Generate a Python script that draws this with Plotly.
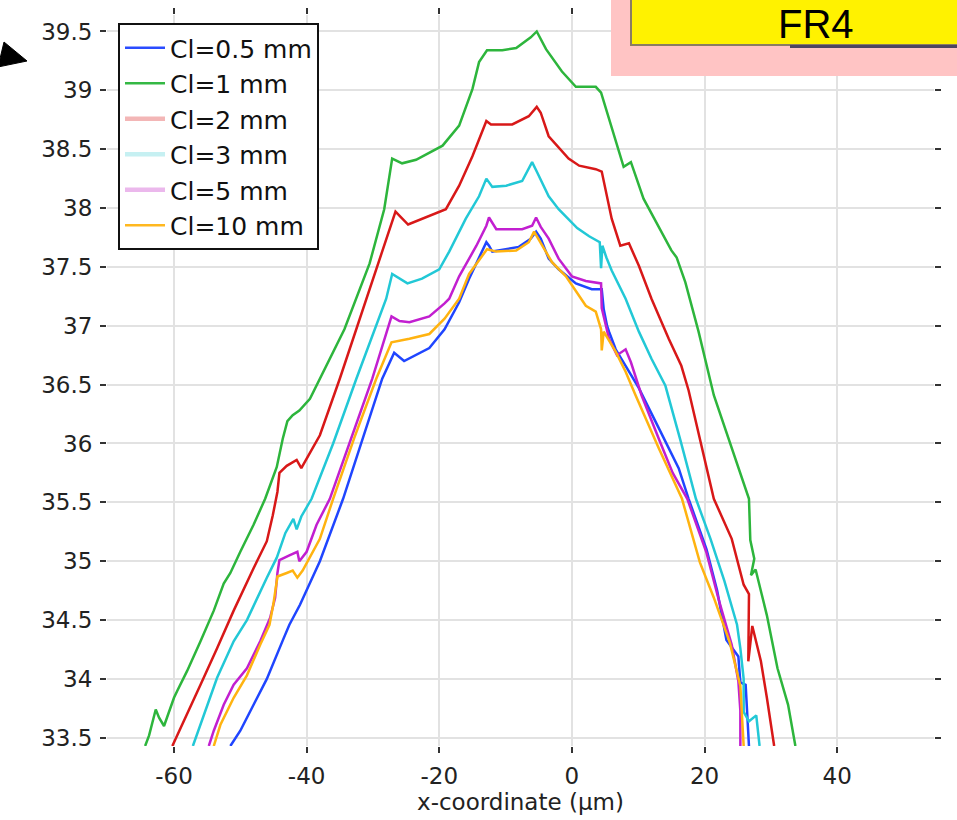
import plotly.graph_objects as go

# ---------------- data ----------------
series_names = ["Cl=0.5 mm", "Cl=1 mm", "Cl=2 mm", "Cl=3 mm", "Cl=5 mm", "Cl=10 mm"]

x_cl05 = [-51.5, -50, -48, -46, -43.5, -42.6, -41, -38, -34.5, -31.5, -28.6, -26.8, -25.3, -21.5, -19.2, -17, -15.5,
          -12.9, -12.5, -12, -9.9, -8, -6.2, -5.4, -4.7, -3.5, -2, 0.6, 3.0, 4.5, 4.8, 5.3, 5.6, 6.6, 8.1, 10.1, 13.1,
          16.1, 17.6, 20.3, 21.9, 23.3, 25.1, 25.4, 26.2, 26.5, 26.7]
y_cl05 = [33.43, 33.56, 33.78, 34.0, 34.34, 34.46, 34.63, 35.0, 35.53, 36.04, 36.55, 36.77, 36.70, 36.81, 36.97, 37.2, 37.40,
          37.71, 37.68, 37.63, 37.65, 37.67, 37.74, 37.8, 37.74, 37.57, 37.48, 37.36, 37.31, 37.31, 37.14, 37.0, 36.95, 36.8, 36.66, 36.47, 36.13,
          35.79, 35.53, 35.1, 34.75, 34.33, 34.19, 33.97, 33.95, 33.63, 33.43]

x_cl1 = [-64.35, -63.75, -62.75, -62.25, -61.5, -60, -59.5, -58, -56, -54, -52.5, -51.5, -50, -48, -46.25, -44.5,
         -43.6, -42.9, -42.1, -41.1, -39.5, -38, -34.3, -30.5, -28.3, -27.1, -25.6, -23.5, -19.5, -17.0, -15.0, -14.0,
         -12.8, -10.5, -8.4, -6.2, -5.3, -3.9, -1.5, 0.6, 3.6, 4.4, 6.6, 7.8, 8.9, 10.8, 15.0, 15.8, 17.1, 19.1, 21.4,
         24.0, 26.7, 26.9, 27.5, 27.0, 27.7, 29.4, 31.0, 32.6, 33.7]
y_cl1 = [33.43, 33.52, 33.74, 33.67, 33.60, 33.84, 33.90, 34.07, 34.32, 34.58, 34.81, 34.90, 35.08, 35.31, 35.53, 35.80,
         36.04, 36.19, 36.24, 36.28, 36.38, 36.55, 36.97, 37.53, 37.99, 38.42, 38.38, 38.41, 38.53, 38.70, 39.01, 39.24,
         39.34, 39.34, 39.36, 39.45, 39.50, 39.35, 39.16, 39.03, 39.03, 38.98, 38.58, 38.35, 38.39, 38.08, 37.64, 37.58, 37.37, 36.95, 36.41,
         35.98, 35.53, 35.18, 35.02, 34.88, 34.93, 34.54, 34.09, 33.78, 33.43]

x_cl2 = [-60.25, -58, -56, -53.5, -52, -51, -48, -46, -45.1, -44.4, -44.1, -43, -41.5, -40.8, -39.8, -38, -35, -31, -28,
         -26.6, -24.7, -22.6, -19, -17, -15, -12.9, -12.2, -9, -6.5, -5.3, -4.7, -3.5, -2.2, -0.5, 1.1, 3.6, 4.5, 5.1,
         6.0, 7.3, 8.6, 10.1, 12.0, 14.6, 16.5, 17.6, 19.5, 21.4, 24.1, 25.9, 26.7, 26.6, 27.2, 27.8, 28.5, 29.4, 30.5]
y_cl2 = [33.43, 33.70, 33.95, 34.26, 34.46, 34.58, 34.94, 35.17, 35.39, 35.59, 35.75, 35.81, 35.86, 35.79, 35.89, 36.07, 36.55, 37.23, 37.74,
         37.97, 37.86, 37.91, 37.99, 38.19, 38.44, 38.74, 38.71, 38.71, 38.78, 38.86, 38.81, 38.61, 38.53, 38.42, 38.36, 38.33, 38.31, 38.14,
         37.91, 37.68, 37.70, 37.51, 37.23, 36.89, 36.66, 36.45, 36.0, 35.53, 35.19, 34.80, 34.72, 34.15, 34.45, 34.30, 34.15, 33.84, 33.43]

x_cl3 = [-57.15, -55.5, -53.5, -51, -49, -46, -44.5, -43.2, -42.0, -41.5, -40.8, -39.25, -36, -32.5, -30.2, -28, -27.1,
         -24.8, -22.6, -20, -18.5, -16, -14, -12.9, -12, -9.9, -7.5, -6.0, -5.3, -3.5, -2, 0.8, 2.6, 4.2, 4.4, 4.6, 5.2,
         6.0, 8.1, 10.1, 12.0, 14.1, 16.4, 18.7, 20.9, 23.0, 24.9, 25.4, 25.9, 25.9, 26.7, 27.8, 28.3]
y_cl3 = [33.43, 33.70, 34.01, 34.32, 34.5, 34.86, 35.03, 35.24, 35.36, 35.27, 35.38, 35.53, 36.0, 36.55, 36.90, 37.23, 37.44,
         37.36, 37.40, 37.48, 37.63, 37.91, 38.10, 38.25, 38.18, 38.19, 38.23, 38.39, 38.31, 38.10, 37.99, 37.83, 37.76, 37.71, 37.49, 37.68, 37.58,
         37.47, 37.23, 36.95, 36.72, 36.49, 36.02, 35.53, 35.19, 34.83, 34.46, 34.26, 34.0, 33.72, 33.64, 33.69, 33.43]

x_cl5 = [-54.75, -54, -52.5, -51, -49, -47, -45.5, -44.75, -44.4, -44.1, -42.6, -41.4, -41.1, -40.0, -38.5, -36.5, -33.3,
         -30.1, -27.2, -26, -24.5, -21.5, -19.2, -18.5, -17, -14.4, -12.9, -12.5, -11.4, -7.5, -6, -5.4, -4.7, -3.5, -2,
         0, 2.1, 4.4, 4.5, 5.1, 5.6, 6.8, 7.5, 8.1, 8.9, 10.5, 13.1, 15.2, 17.4, 20.3, 22.2, 24.1, 25.1, 25.4, 25.4]
y_cl5 = [33.43, 33.56, 33.78, 33.95, 34.09, 34.32, 34.52, 34.69, 34.9, 35.01, 35.05, 35.08, 35.0, 35.08, 35.31, 35.53, 36.04,
         36.55, 37.08, 37.04, 37.03, 37.08, 37.19, 37.23, 37.42, 37.68, 37.85, 37.92, 37.82, 37.82, 37.85, 37.92, 37.84, 37.74, 37.57,
         37.42, 37.38, 37.36, 37.15, 37.0, 36.89, 36.75, 36.78, 36.8, 36.69, 36.41, 36.04, 35.75, 35.53, 35.07, 34.66, 34.29, 33.98, 33.73, 33.43]

x_cl10 = [-54, -53, -51, -49, -47, -45.6, -45, -44.4, -43, -42.1, -41.4, -40.6, -38, -36, -32.8, -29.5, -27.2, -24.5,
          -21.5, -19.2, -17, -15.5, -12.8, -11.4, -8.4, -6.5, -5.7, -4.5, -3.0, -0.9, 0.6, 2.1, 3.6, 4.4, 4.5, 4.8, 6.6,
          8.1, 9.6, 13.1, 16.6, 19.3, 21.4, 23.8, 25.4, 25.7, 25.9]
y_cl10 = [33.43, 33.61, 33.84, 34.03, 34.29, 34.46, 34.64, 34.87, 34.9, 34.92, 34.86, 34.92, 35.19, 35.53, 36.05, 36.55, 36.86, 36.89,
          36.93, 37.06, 37.23, 37.44, 37.65, 37.63, 37.64, 37.71, 37.8, 37.68, 37.54, 37.42, 37.29, 37.17, 37.12, 36.97, 36.79, 36.95, 36.78,
          36.61, 36.41, 35.96, 35.53, 34.99, 34.69, 34.31, 33.94, 33.63, 33.43]

x_tick_vals = [-60, -40, -20, 0, 20, 40]
x_tick_text = ["-60", "-40", "-20", "0", "20", "40"]
y_tick_vals = [33.5, 34, 34.5, 35, 35.5, 36, 36.5, 37, 37.5, 38, 38.5, 39, 39.5]
y_tick_text = ["33.5", "34", "34.5", "35", "35.5", "36", "36.5", "37", "37.5", "38", "38.5", "39", "39.5"]

# ---------------- styling ----------------
line_colors = ["#1f45ff", "#2db53c", "#d81818", "#22c8d6", "#c21fd0", "#ffb310"]
legend_colors = ["#2a4cff", "#34b844", "#f3b6b6", "#c6f0f2", "#ebb8ec", "#ffb820"]
legend_widths = [2.5, 2.5, 4.5, 4.5, 4.5, 2.5]

W, H = 957, 820
L, R, T, B = 107, 934, 15, 746
PW, PH = R - L, B - T


def px_x(px):
    return (px - L) / PW


def px_y(py):
    return (B - py) / PH


xs = [x_cl05, x_cl1, x_cl2, x_cl3, x_cl5, x_cl10]
ys = [y_cl05, y_cl1, y_cl2, y_cl3, y_cl5, y_cl10]

fig = go.Figure()
for name, x, y, c in zip(series_names, xs, ys, line_colors):
    fig.add_trace(go.Scatter(x=x, y=y, mode="lines", name=name, showlegend=False,
                             line=dict(color=c, width=2.5), legendgroup=name))
for i, (name, c, w) in enumerate(zip(series_names, legend_colors, legend_widths)):
    fig.add_trace(go.Scatter(x=[None], y=[None], mode="lines", name=name, showlegend=True,
                             line=dict(color=c, width=w), legendgroup=name))

tickfont = dict(family="DejaVu Sans", size=23, color="#222222")

fig.update_layout(
    width=W, height=H,
    margin=dict(l=L, r=W - R, t=T, b=H - B, pad=0, autoexpand=False),
    paper_bgcolor="white", plot_bgcolor="white",
    font=dict(family="DejaVu Sans", color="#222222"),
    legend=dict(x=px_x(118), y=px_y(23), xanchor="left", yanchor="top",
                bgcolor="white", bordercolor="#111111", borderwidth=2,
                font=dict(family="DejaVu Sans", size=25, color="#111111"),
                tracegroupgap=1, traceorder="normal", itemwidth=40),
    xaxis=dict(range=[-70.1, 54.6], tickmode="array", tickvals=x_tick_vals, ticktext=x_tick_text,
               showgrid=True, gridcolor="#e2e2e2", gridwidth=2, zeroline=False, showline=False,
               ticks="outside", ticklen=6, tickwidth=2, tickcolor="#333333", mirror="ticks",
               tickfont=tickfont, ticklabelstandoff=3, automargin=False,
               title=dict(text="x-coordinate (μm)", font=dict(family="DejaVu Sans", size=23, color="#222222"),
                          standoff=0)),
    yaxis=dict(range=[33.43, 39.64], tickmode="array", tickvals=y_tick_vals, ticktext=y_tick_text,
               showgrid=True, gridcolor="#e2e2e2", gridwidth=2, zeroline=False, showline=False,
               ticks="outside", ticklen=6, tickwidth=2, tickcolor="#333333", mirror="ticks",
               tickfont=tickfont, ticklabelstandoff=3, automargin=False),
)

# overlay: pink panel with yellow "FR4" label, arrow at top-left
fig.add_shape(type="rect", xref="paper", yref="paper", x0=px_x(611), x1=px_x(960), y0=px_y(76), y1=px_y(-5),
              fillcolor="#ffc4c4", line=dict(width=0), layer="above")
fig.add_shape(type="rect", xref="paper", yref="paper", x0=px_x(631), x1=px_x(965), y0=px_y(45), y1=px_y(-10),
              fillcolor="#fff200", line=dict(color="#8a7d62", width=2), layer="above")
fig.add_shape(type="rect", xref="paper", yref="paper", x0=px_x(790), x1=px_x(960), y0=px_y(48), y1=px_y(45),
              fillcolor="#4d4560", line=dict(width=0), layer="above")
fig.add_annotation(xref="paper", yref="paper", x=px_x(816), y=px_y(0), xanchor="center", yanchor="top",
                   text="FR4", showarrow=False, font=dict(family="Liberation Sans", size=40, color="black"))
fig.add_shape(type="path", xref="paper", yref="paper", xsizemode="pixel", ysizemode="pixel",
              xanchor=px_x(0), yanchor=px_y(0), path="M 4,-42 L 27,-61 L -2,-67 Z",
              fillcolor="black", line=dict(color="black", width=1), layer="above")

fig.write_html("out.html", config={"displayModeBar": False},
               post_script="document.body.style.margin='0px';")
